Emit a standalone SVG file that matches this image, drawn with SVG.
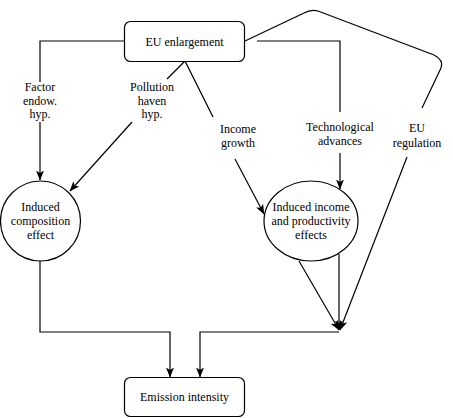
<svg xmlns="http://www.w3.org/2000/svg" width="453" height="418" viewBox="0 0 453 418">
<style>
.n{fill:#fff;stroke:#000;stroke-width:1.2}
.c{fill:none;stroke:#000;stroke-width:1.2}
</style>
<defs>
<marker id="ar" viewBox="0 0 10 8" refX="9.5" refY="4" markerWidth="10" markerHeight="8" markerUnits="userSpaceOnUse" orient="auto">
<path d="M0,0 L10,4 L0,8 L2.5,4 Z" fill="#000"/>
</marker>
</defs>
<rect width="453" height="418" fill="#fff"/>
<g id="connectors">
<path class="c" d="M124,41 H40 V82"/>
<path class="c" d="M40,122 V180" marker-end="url(#ar)"/>
<path class="c" d="M185,61 L167,79"/>
<path class="c" d="M132,122 L70,191" marker-end="url(#ar)"/>
<path class="c" d="M185,61 L213,117"/>
<path class="c" d="M235,159 L264,214" marker-end="url(#ar)"/>
<path class="c" d="M257,41 H340 V112"/>
<path class="c" d="M340,153 V189" marker-end="url(#ar)"/>
<path class="c" d="M245,41 L304,13 Q311,9 318,11 L434,55 Q444,60 441,68 L422,108"/>
<path class="c" d="M407,157 L340,330" marker-end="url(#ar)"/>
<path class="c" d="M299,261 L339,330" marker-end="url(#ar)"/>
<path class="c" d="M339,254 V330" marker-end="url(#ar)"/>
<path class="c" d="M339,332 H200 V377" marker-end="url(#ar)"/>
<path class="c" d="M40,261 V332 H170 V377" marker-end="url(#ar)"/>
<text x="40" y="91" text-anchor="middle" style="font-family:'Liberation Serif','Times New Roman',serif;font-size:12px">Factor</text>
<text x="40" y="105" text-anchor="middle" style="font-family:'Liberation Serif','Times New Roman',serif;font-size:12px">endow.</text>
<text x="40" y="118" text-anchor="middle" style="font-family:'Liberation Serif','Times New Roman',serif;font-size:12px">hyp.</text>
<text x="152" y="91" text-anchor="middle" style="font-family:'Liberation Serif','Times New Roman',serif;font-size:12px">Pollution</text>
<text x="152" y="105" text-anchor="middle" style="font-family:'Liberation Serif','Times New Roman',serif;font-size:12px">haven</text>
<text x="152" y="118" text-anchor="middle" style="font-family:'Liberation Serif','Times New Roman',serif;font-size:12px">hyp.</text>
<text x="238" y="133" text-anchor="middle" style="font-family:'Liberation Serif','Times New Roman',serif;font-size:12px">Income</text>
<text x="238" y="147" text-anchor="middle" style="font-family:'Liberation Serif','Times New Roman',serif;font-size:12px">growth</text>
<text x="340" y="131" text-anchor="middle" style="font-family:'Liberation Serif','Times New Roman',serif;font-size:12px">Technological</text>
<text x="340" y="145" text-anchor="middle" style="font-family:'Liberation Serif','Times New Roman',serif;font-size:12px">advances</text>
<text x="417" y="132" text-anchor="middle" style="font-family:'Liberation Serif','Times New Roman',serif;font-size:12px">EU</text>
<text x="417" y="147" text-anchor="middle" style="font-family:'Liberation Serif','Times New Roman',serif;font-size:12px">regulation</text>
</g>
<g id="eu-enlargement">
<rect class="n" x="124.5" y="21.5" width="120" height="40" rx="6"/>
<text x="184.5" y="45.5" text-anchor="middle" style="font-family:'Liberation Serif','Times New Roman',serif;font-size:12px">EU enlargement</text>
</g>
<g id="composition">
<circle class="n" cx="40.5" cy="221" r="40"/>
<text x="40.5" y="211" text-anchor="middle" style="font-family:'Liberation Serif','Times New Roman',serif;font-size:12px">Induced</text>
<text x="40.5" y="225" text-anchor="middle" style="font-family:'Liberation Serif','Times New Roman',serif;font-size:12px">composition</text>
<text x="40.5" y="239" text-anchor="middle" style="font-family:'Liberation Serif','Times New Roman',serif;font-size:12px">effect</text>
</g>
<g id="income-productivity">
<ellipse class="n" cx="311" cy="221" rx="47" ry="40"/>
<text x="311" y="211" text-anchor="middle" style="font-family:'Liberation Serif','Times New Roman',serif;font-size:12px">Induced income</text>
<text x="311" y="225" text-anchor="middle" style="font-family:'Liberation Serif','Times New Roman',serif;font-size:12px">and productivity</text>
<text x="311" y="239" text-anchor="middle" style="font-family:'Liberation Serif','Times New Roman',serif;font-size:12px">effects</text>
</g>
<g id="emission-intensity">
<rect class="n" x="124.5" y="377.5" width="120" height="39" rx="6"/>
<text x="184.5" y="401" text-anchor="middle" style="font-family:'Liberation Serif','Times New Roman',serif;font-size:12px">Emission intensity</text>
</g>
</svg>
